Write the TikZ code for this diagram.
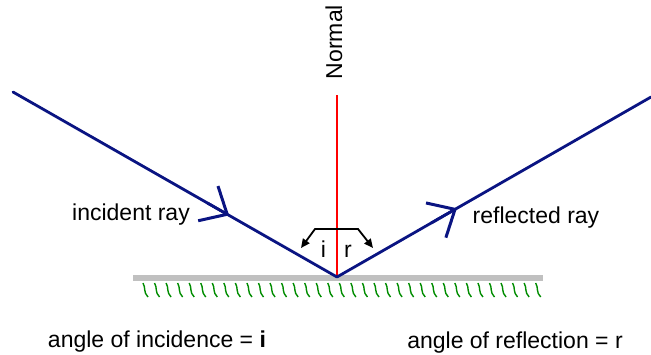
\documentclass[tikz,border=0pt]{standalone}
\usepackage{fontspec}
\setmainfont{Liberation Sans}
\usetikzlibrary{arrows.meta,calc}
\definecolor{raycol}{RGB}{10,20,130}
\definecolor{mirrorgray}{RGB}{192,192,192}
\definecolor{hatchgreen}{RGB}{0,140,0}
\tikzset{
  ray/.style={draw=raycol, line width=2.8pt, line cap=round, line join=round},
  raytip/.style={ray, -{Straight Barb[length=22pt,width=40pt,line width=3pt]}},
  lbl/.style={font=\fontsize{23}{26}\selectfont, inner sep=0pt, anchor=base},
  normalline/.style={draw=red, line width=1.4pt},
  anglemark/.style={draw=black, line width=1.8pt, line join=miter,
    {Triangle[length=9pt,width=8pt]}-{Triangle[length=9pt,width=8pt]}},
  hatch/.style={draw=hatchgreen, line width=1.4pt}
}
\begin{document}
\begin{tikzpicture}[x=1pt,y=-1pt]
\useasboundingbox (0,0) rectangle (651,354);
% mirror
\fill[mirrorgray] (133,275) rectangle (543,281);
\foreach \k in {0,...,34} {
  \draw[hatch] ({143+11.55*\k},283) .. controls ({146+11.55*\k},288) and ({143+11.55*\k},292) .. ({148+11.55*\k},297);
}
% points
\coordinate (start) at (13,92);
\coordinate (v) at (337,277);
\coordinate (stop) at (651,97);
\coordinate (ntop) at (337,95);
% normal
\draw[normalline] (ntop) -- (v);
\node[lbl, rotate=90, anchor=center] (normal) at (334,42) {Normal};
% rays
\draw[ray] (start) -- (v) -- (stop);
\draw[raytip] ($(start)!0.6!(v)$) -- ($(start)!0.667!(v)$);
\draw[raytip] ($(v)!0.3!(stop)$) -- ($(v)!0.382!(stop)$);
% angle marks
\coordinate (a1) at (301,248);
\coordinate (a2) at (315,229);
\coordinate (a3) at (358,229);
\coordinate (a4) at (373,248);
\draw[anglemark] (a1) -- (a2) -- (a3) -- (a4);
\node[lbl] (ilbl) at (323.5,257) {i};
\node[lbl] (rlbl) at (348,257) {r};
% labels
\node[lbl] (inc) at (131,220) {incident ray};
\node[lbl] (refl) at (536,223) {reflected ray};
\node[lbl] (aoi) at (157,347) {angle of incidence = \textbf{i}};
\node[lbl] (aor) at (515,348) {angle of reflection = r};
\end{tikzpicture}
\end{document}
